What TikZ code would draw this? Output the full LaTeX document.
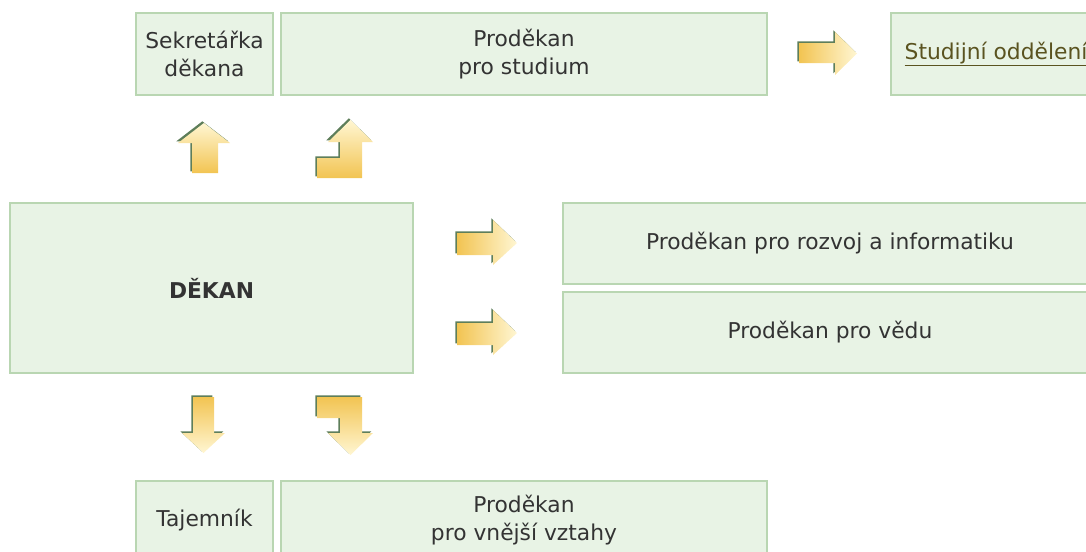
\documentclass[tikz,border=0pt]{standalone}
\usepackage{fontspec}
\setmainfont{DejaVu Sans}
\usetikzlibrary{positioning}
\definecolor{vypln}{HTML}{E8F3E5}
\definecolor{okraj}{HTML}{B9D6B2}
\definecolor{stin}{HTML}{5E7E5A}
\definecolor{zlata}{HTML}{F2C452}
\definecolor{svetla}{HTML}{FFF6D2}
\definecolor{odkaz}{HTML}{5A5320}
\definecolor{pismo}{HTML}{333333}
\tikzset{
  box/.style={draw=okraj, fill=vypln, line width=1pt, align=center, inner sep=0pt,
    font=\fontsize{15.5}{20}\selectfont, text=pismo},
  sipka/.style={preaction={fill=stin, transform canvas={xshift=-1.2pt, yshift=1.2pt}}},
}

\begin{document}
\begin{tikzpicture}[x=0.025cm, y=-0.025cm]
	\useasboundingbox (0,0) rectangle (1086,552);
	\clip (0,0) rectangle (1086,552);
	% Uzly
	\node[box, minimum width=3.425cm, minimum height=2.05cm] (sekretarka) at (204.5,54) {Sekretářka\\děkana};
	\node[box, minimum width=12.15cm, minimum height=2.05cm] (studium) at (524,54) {Proděkan\\pro studium};
	\node[box, minimum width=5.25cm, minimum height=2.05cm, text=odkaz] (oddeleni) at (996,54) {\underline{Studijní oddělení}};
	\node[box, minimum width=10.075cm, minimum height=4.25cm, font=\fontsize{15.5}{20}\selectfont\bfseries] (dekan) at (211.5,288) {DĚKAN};
	\node[box, minimum width=13.35cm, minimum height=2.025cm] (rozvoj) at (830,243.5) {Proděkan pro rozvoj a informatiku};
	\node[box, minimum width=13.35cm, minimum height=2.025cm] (veda) at (830,332.5) {Proděkan pro vědu};
	\node[box, minimum width=3.425cm, minimum height=1.95cm] (tajemnik) at (204.5,520) {Tajemník};
	\node[box, minimum width=12.15cm, minimum height=1.95cm] (vztahy) at (524,520) {Proděkan\\pro vnější vztahy};
	% Sipky
	\path[sipka, top color=svetla, bottom color=zlata] (192,173) -- (192,143) -- (178,143) -- (204,123) -- (230,143) -- (218,143) -- (218,173) -- cycle;
	\path[sipka, top color=svetla, bottom color=zlata] (317,178) -- (317,158) -- (340,158) -- (340,142) -- (328,142) -- (350.5,120) -- (373,142) -- (362,142) -- (362,178) -- cycle;
	\path[sipka, top color=zlata, bottom color=svetla] (193,397) -- (214,397) -- (214,433) -- (225,433) -- (203.5,453) -- (182,433) -- (193,433) -- cycle;
	\path[sipka, top color=zlata, bottom color=svetla] (317,397) -- (362,397) -- (362,433) -- (373,433) -- (350.5,455) -- (328,433) -- (340,433) -- (340,418) -- (317,418) -- cycle;
	\foreach \dy in {0,90}
		\path[sipka, left color=zlata, right color=svetla, yshift=-\dy*0.025cm] (457,233) -- (493,233) -- (493,220) -- (517,243) -- (493,265) -- (493,255) -- (457,255) -- cycle;
	\path[sipka, left color=zlata, right color=svetla] (799,43) -- (835,43) -- (835,32) -- (857,53.5) -- (835,75) -- (835,63) -- (799,63) -- cycle;
\end{tikzpicture}
\end{document}
